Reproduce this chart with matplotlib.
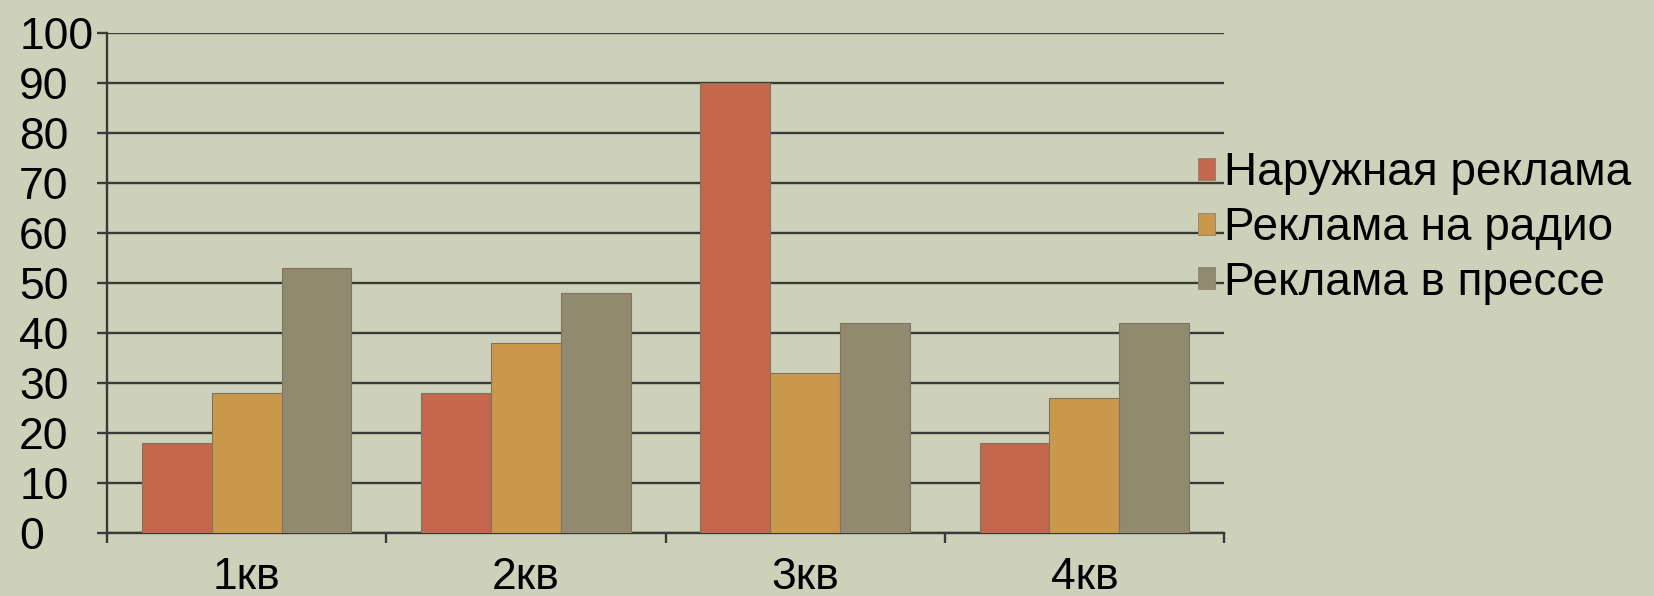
import matplotlib
matplotlib.use("Agg")
import matplotlib.pyplot as plt
import numpy as np
from matplotlib.patches import Patch

categories = ["1кв", "2кв", "3кв", "4кв"]
series_names = ["Наружная реклама", "Реклама на радио", "Реклама в прессе"]
outdoor = [18, 28, 90, 18]
radio = [28, 38, 32, 27]
press = [53, 48, 42, 42]
colors = ["#C5674C", "#C9984A", "#918A6E"]
bg = "#CDD1B9"

plt.rcParams['font.family'] = ['Liberation Sans', 'DejaVu Sans']

fig = plt.figure(figsize=(16.54, 5.96), dpi=100, facecolor=bg)
ax = fig.add_axes([107/1654, 1-533/596, (1224-107)/1654, (533-32.7)/596])
ax.set_facecolor(bg)

x = np.arange(len(categories))
w = 0.25
for i, (vals, c) in enumerate(zip([outdoor, radio, press], colors)):
    ax.bar(x + (i-1)*w, vals, width=w, color=c, edgecolor="#7d7562", linewidth=0.8, zorder=3)

ax.set_xlim(-0.5, 3.5)
ax.set_ylim(0, 100)
ax.set_yticks(range(0, 101, 10))
ax.yaxis.grid(True, color="#3a3a36", linewidth=1.7, zorder=1)
ax.set_axisbelow(True)

ax.set_xticks(np.arange(-0.5, 4.0, 1.0))
ax.set_xticklabels([])
ax.set_xticks(x, minor=True)
ax.set_xticklabels(categories, minor=True)
ax.tick_params(axis='x', which='major', length=7.2, width=1.7, color="#3a3a36", direction='out')
ax.tick_params(axis='x', which='minor', length=0, pad=17, labelsize=32)
ax.tick_params(axis='y', length=7.2, width=1.7, color="#3a3a36", labelsize=32, pad=56)
for lab in ax.get_yticklabels():
    lab.set_horizontalalignment('left')

for s in ['top', 'right']:
    ax.spines[s].set_visible(False)
ax.spines['left'].set_color("#3a3a36")
ax.spines['left'].set_linewidth(1.7)
ax.spines['bottom'].set_color("#3a3a36")
ax.spines['bottom'].set_linewidth(1.7)

handles = [Patch(facecolor=c, edgecolor="#8a8270", linewidth=0.6) for c in colors]
fig.legend(handles, series_names, loc='center left', bbox_to_anchor=(1198/1654, 1-228/596),
           frameon=False, fontsize=33, handlelength=0.36, handleheight=0.36,
           handletextpad=0.2, labelspacing=0.23, borderpad=0, borderaxespad=0)

fig.savefig("out.png", dpi=100, facecolor=bg)
